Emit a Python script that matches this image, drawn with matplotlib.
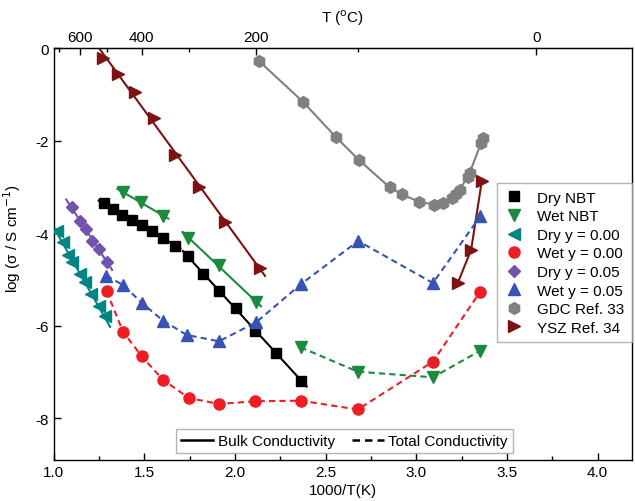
import numpy as np
import matplotlib
matplotlib.use("Agg")
import matplotlib.pyplot as plt
from matplotlib.lines import Line2D

plt.rcParams['font.family'] = ['Liberation Sans', 'DejaVu Sans']
plt.rcParams['axes.unicode_minus'] = False

# ---- data (x = 1000/T, y = log sigma) ----
dry_nbt_x1 = [1.279, 1.329, 1.378, 1.431, 1.486, 1.544, 1.603, 1.670]
dry_nbt_y1 = [-3.355, -3.485, -3.604, -3.712, -3.827, -3.944, -4.097, -4.279]
dry_nbt_x2 = [1.743, 1.826, 1.912, 2.008, 2.112, 2.228, 2.366]
dry_nbt_y2 = [-4.502, -4.887, -5.255, -5.617, -6.108, -6.597, -7.190]

wet_nbt_x1 = [1.382, 1.484, 1.603]
wet_nbt_y1 = [-3.113, -3.329, -3.619]
wet_nbt_x2 = [1.741, 1.914, 2.114]
wet_nbt_y2 = [-4.097, -4.697, -5.481]
wet_nbt_tot_x = [2.362, 2.678, 3.092, 3.353]
wet_nbt_tot_y = [-6.468, -6.996, -7.117, -6.541]

dry_y000_x = [1.021, 1.052, 1.079, 1.104, 1.144, 1.171, 1.205, 1.249, 1.282]
dry_y000_y = [-3.944, -4.195, -4.470, -4.628, -4.881, -5.048, -5.314, -5.567, -5.784]

wet_y000_x = [1.293, 1.383, 1.486, 1.603, 1.746, 1.912, 2.112, 2.362, 2.678, 3.092, 3.353]
wet_y000_y = [-5.253, -6.130, -6.662, -7.169, -7.565, -7.695, -7.636, -7.623, -7.814, -6.779, -5.264]

dry_y005_x = [1.100, 1.144, 1.177, 1.213, 1.252, 1.293]
dry_y005_y = [-3.437, -3.727, -3.907, -4.160, -4.340, -4.615]

wet_y005_x = [1.291, 1.383, 1.486, 1.604, 1.735, 1.912, 2.118, 2.362, 2.680, 3.092, 3.353]
wet_y005_y = [-4.918, -5.119, -5.502, -5.892, -6.201, -6.338, -5.926, -5.108, -4.167, -5.076, -3.632]

gdc_x = [2.131, 2.375, 2.555, 2.684, 2.853, 2.921, 3.013, 3.097, 3.147, 3.198, 3.220,
         3.239, 3.284, 3.294, 3.358, 3.367]
gdc_y = [-0.264, -1.152, -1.909, -2.413, -3.004, -3.160, -3.312, -3.381, -3.351, -3.242,
         -3.149, -3.056, -2.775, -2.701, -2.045, -1.937]

ysz_hi_x = [1.272, 1.355, 1.447, 1.552, 1.668, 1.802, 1.947, 2.136]
ysz_hi_y = [-0.206, -0.552, -0.948, -1.504, -2.305, -2.991, -3.762, -4.751]
ysz_lo_x = [3.362, 3.303, 3.229]
ysz_lo_y = [-2.861, -4.355, -5.076]

top_major_T = [600, 400, 200, 0]
top_minor_T = [700, 500, 300, 100]

# ---- colours ----
c_black = '#000000'
c_green = '#1a8a3e'
c_teal = '#008583'
c_red = '#ee1d24'
c_purple = '#7152ad'
c_blue = '#3653b5'
c_gray = '#808080'
c_dred = '#7d1214'

fig = plt.figure(figsize=(6.35, 5.02), dpi=100)
ax = fig.add_axes([0.0843, 0.0817, 0.9110, 0.8197])

lw = 1.5
pad = 0.03


def fitline(x, y, color):
    x = np.asarray(x); y = np.asarray(y)
    p = np.polyfit(x, y, 1)
    xx = np.array([x.min() - pad, x.max() + pad])
    ax.plot(xx, np.polyval(p, xx), '-', color=color, lw=lw, zorder=2)


# solid (bulk) lines
fitline(dry_nbt_x1, dry_nbt_y1, c_black)
fitline(dry_nbt_x2, dry_nbt_y2, c_black)
fitline(wet_nbt_x1, wet_nbt_y1, c_green)
fitline(wet_nbt_x2, wet_nbt_y2, c_green)
fitline(dry_y000_x, dry_y000_y, c_teal)
fitline(dry_y005_x, dry_y005_y, c_purple)
fitline(ysz_hi_x, ysz_hi_y, c_dred)
ax.plot(ysz_lo_x, ysz_lo_y, '-', color=c_dred, lw=lw, zorder=2)
ax.plot(gdc_x, gdc_y, '-', color=c_gray, lw=lw, zorder=2)

# dashed (total) lines
dash = (0, (3, 2))
ax.plot(wet_nbt_tot_x, wet_nbt_tot_y, linestyle=dash, color=c_green, lw=lw, zorder=2)
ax.plot(wet_y000_x, wet_y000_y, linestyle=dash, color=c_red, lw=lw, zorder=2)
ax.plot(wet_y005_x, wet_y005_y, linestyle=dash, color=c_blue, lw=lw, zorder=2)

# markers
mk = dict(linestyle='none', zorder=3)
ax.plot(dry_nbt_x1 + dry_nbt_x2, dry_nbt_y1 + dry_nbt_y2, 's', color=c_black, ms=6.5, **mk)
ax.plot(wet_nbt_x1 + wet_nbt_x2 + wet_nbt_tot_x, wet_nbt_y1 + wet_nbt_y2 + wet_nbt_tot_y,
        'v', color=c_green, ms=8, **mk)
ax.plot(dry_y000_x, dry_y000_y, '<', color=c_teal, ms=8, **mk)
ax.plot(wet_y000_x, wet_y000_y, 'o', color=c_red, ms=8, **mk)
ax.plot(dry_y005_x, dry_y005_y, 'D', color=c_purple, ms=6.5, **mk)
ax.plot(wet_y005_x, wet_y005_y, '^', color=c_blue, ms=8.5, **mk)
ax.plot(gdc_x, gdc_y, 'h', color=c_gray, ms=8.5, **mk)
ax.plot(ysz_hi_x + ysz_lo_x, ysz_hi_y + ysz_lo_y, '>', color=c_dred, ms=8, **mk)

ax.set_xlim(1.0, 4.19)
ax.set_ylim(-8.907, 0)
ax.set_xticks([1.0, 1.5, 2.0, 2.5, 3.0, 3.5, 4.0])
ax.set_xticks(np.arange(1.25, 4.2, 0.5), minor=True)
ax.set_yticks([0, -2, -4, -6, -8])
ax.set_xticklabels(['1.0', '1.5', '2.0', '2.5', '3.0', '3.5', '4.0'])
ax.set_yticklabels(['0', '-2', '-4', '-6', '-8'])
ax.tick_params(direction='in', labelsize=11, length=5, width=1)
ax.tick_params(which='minor', direction='in', length=3, width=1)
for s in ax.spines.values():
    s.set_linewidth(1.0)
ax.set_xlabel('1000/T(K)', fontsize=11, labelpad=3)
ax.set_ylabel('log (σ / S cm$^{-1}$)', fontsize=11)
ax.yaxis.set_label_coords(-0.053, 0.54)

# top temperature axis
def k2c(x):
    x = np.asarray(x, dtype=float)
    with np.errstate(divide='ignore'):
        return 1000.0 / x - 273.0

def c2k(t):
    t = np.asarray(t, dtype=float)
    with np.errstate(divide='ignore'):
        return 1000.0 / (t + 273.0)

sec = ax.secondary_xaxis('top', functions=(k2c, c2k))
sec.set_xticks(top_major_T)
sec.set_xticklabels([str(t) for t in top_major_T])
sec.set_xticks(top_minor_T, minor=True)
sec.tick_params(direction='in', labelsize=11, length=5, width=1, pad=3)
sec.tick_params(which='minor', direction='in', length=3, width=1)
sec.set_xlabel('T ($^{\\rm o}$C)', fontsize=11, labelpad=6)

# legends
handles = [
    Line2D([], [], linestyle='none', marker='s', color=c_black, ms=6.5),
    Line2D([], [], linestyle='none', marker='v', color=c_green, ms=8),
    Line2D([], [], linestyle='none', marker='<', color=c_teal, ms=8),
    Line2D([], [], linestyle='none', marker='o', color=c_red, ms=8),
    Line2D([], [], linestyle='none', marker='D', color=c_purple, ms=6.5),
    Line2D([], [], linestyle='none', marker='^', color=c_blue, ms=8.5),
    Line2D([], [], linestyle='none', marker='h', color=c_gray, ms=8.5),
    Line2D([], [], linestyle='none', marker='>', color=c_dred, ms=8),
]
labels = ['Dry NBT', 'Wet NBT', 'Dry y = 0.00', 'Wet y = 0.00', 'Dry y = 0.05',
          'Wet y = 0.05', 'GDC Ref. 33', 'YSZ Ref. 34']
leg1 = ax.legend(handles, labels, loc='upper right', bbox_to_anchor=(1.0, 0.673),
                 fontsize=11, frameon=True, fancybox=False, edgecolor='#a0a0a0',
                 handlelength=1.2, handletextpad=0.9, labelspacing=0.3,
                 borderpad=0.5, borderaxespad=0.0)
leg1.get_frame().set_linewidth(1.0)
ax.add_artist(leg1)

h2 = [Line2D([], [], color='black', lw=1.8, linestyle='-'),
      Line2D([], [], color='black', lw=1.8, linestyle=dash)]
leg2 = ax.legend(h2, ['Bulk Conductivity', 'Total Conductivity'], loc='center',
                 bbox_to_anchor=(0.503, 0.046), ncol=2, fontsize=11, frameon=True,
                 fancybox=False, edgecolor='#a0a0a0', handlelength=2.1,
                 handletextpad=0.3, columnspacing=1.1, borderpad=0.35)
leg2.get_frame().set_linewidth(1.0)

fig.savefig('out.png', dpi=100)
